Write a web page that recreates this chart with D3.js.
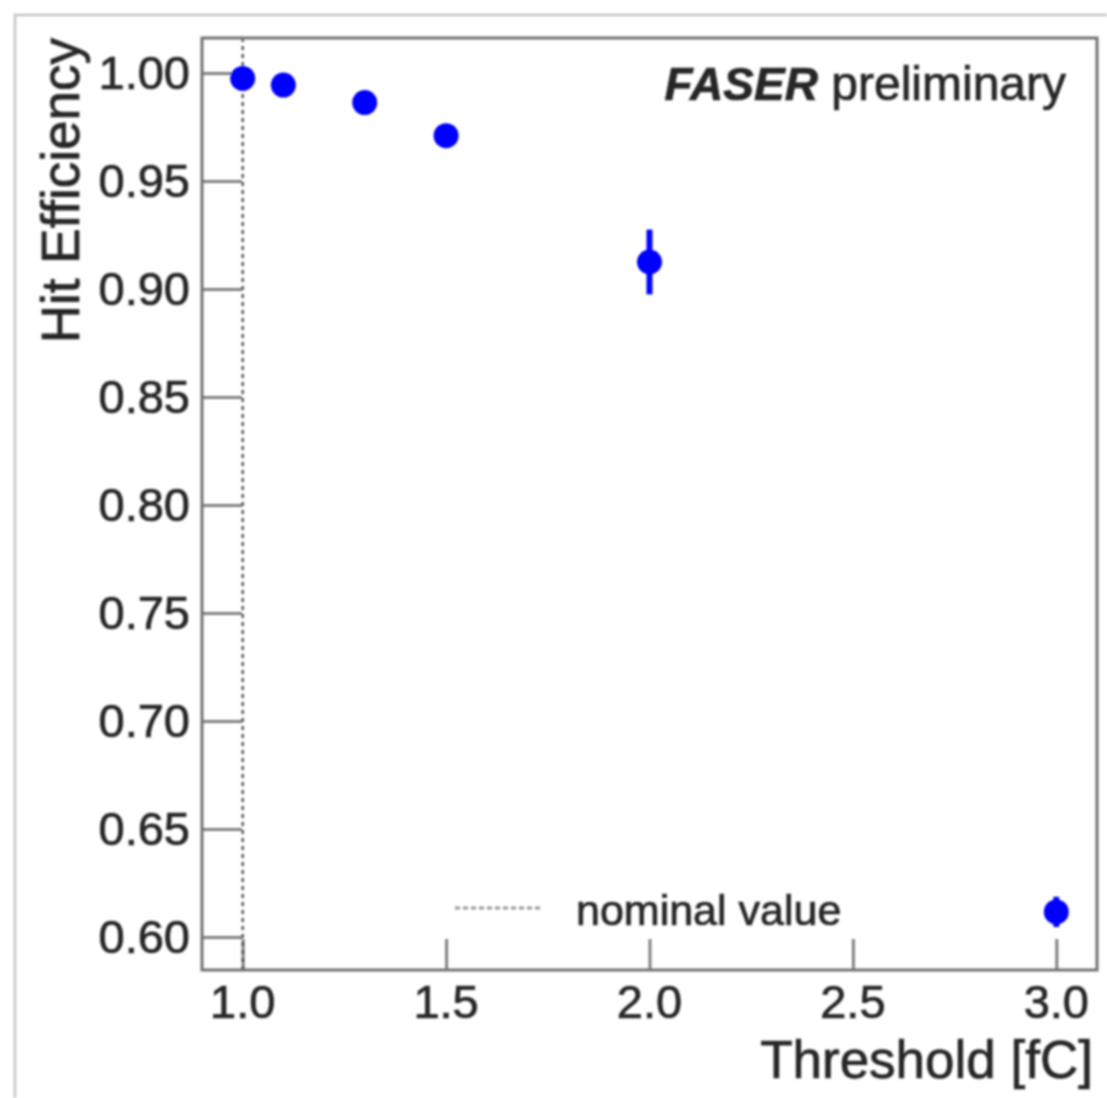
<!DOCTYPE html>
<html>
<head>
<meta charset="utf-8">
<script src="https://cdn.jsdelivr.net/npm/d3@7"></script>
<style>
  html, body { margin: 0; padding: 0; background: #fff; }
  svg { display: block; }
  text { font-family: "Liberation Sans", Arial, Helvetica, sans-serif; fill: #262626; stroke: #262626; stroke-width: 0.7px; }
</style>
</head>
<body>
<svg id="chart" width="1107" height="1098"></svg>
<script>
// Hit efficiency of the tracker vs. discriminator threshold
const thresholds = [1.0, 1.1, 1.3, 1.5, 2.0, 3.0];
const efficiency = [0.9975, 0.9944, 0.9863, 0.9710, 0.9125, 0.6116];
const effError   = [0.0010, 0.0012, 0.0015, 0.0025, 0.0150, 0.0070];

const xTicks = [1.0, 1.5, 2.0, 2.5, 3.0];
const yTicks = [0.60, 0.65, 0.70, 0.75, 0.80, 0.85, 0.90, 0.95, 1.00];
const nominalThreshold = 1.0;

const xTitle = "Threshold [fC]";
const yTitle = "Hit Efficiency";
const legendLabel = "nominal value";

const frame = { left: 202, right: 1097, top: 38, bottom: 970 };

const svg = d3.select("#chart");

const defs = svg.append("defs");
defs.append("filter").attr("id", "soft")
  .attr("x", "-5%").attr("y", "-5%").attr("width", "110%").attr("height", "110%")
  .append("feGaussianBlur").attr("stdDeviation", 1.2);

const g = svg.append("g").attr("filter", "url(#soft)");

// canvas border
g.append("path")
  .attr("d", "M15,1098 L15,15 L1107,15")
  .attr("fill", "none").attr("stroke", "#c4c4c4").attr("stroke-width", 2.5);

const x = d3.scaleLinear().domain([0.9, 3.1]).range([frame.left, frame.right]);
const y = d3.scaleLinear().domain([0.5847, 1.0162]).range([frame.bottom, frame.top]);

// y axis: long inward ticks
const yAxis = d3.axisRight(y).tickValues(yTicks).tickSize(40).tickFormat("");
const yAx = g.append("g").attr("transform", `translate(${frame.left},0)`).call(yAxis);
yAx.select(".domain").remove();
yAx.selectAll(".tick line").attr("stroke", "#808080").attr("stroke-width", 3);

g.append("g").selectAll("text").data(yTicks).join("text")
  .attr("x", frame.left - 12).attr("y", d => y(d))
  .attr("text-anchor", "end").attr("dominant-baseline", "central")
  .attr("font-size", 47).text(d => d.toFixed(2));

// x axis: inward ticks
const xAxis = d3.axisTop(x).tickValues(xTicks).tickSize(31).tickFormat("");
const xAx = g.append("g").attr("transform", `translate(0,${frame.bottom})`).call(xAxis);
xAx.select(".domain").remove();
xAx.selectAll(".tick line").attr("stroke", "#808080").attr("stroke-width", 3);

g.append("g").selectAll("text").data(xTicks).join("text")
  .attr("x", d => x(d)).attr("y", 1018)
  .attr("text-anchor", "middle")
  .attr("font-size", 47).text(d => d.toFixed(1));

// nominal threshold marker
g.append("line")
  .attr("x1", x(nominalThreshold)).attr("x2", x(nominalThreshold))
  .attr("y1", frame.top).attr("y2", frame.bottom)
  .attr("stroke", "#333").attr("stroke-width", 2).attr("stroke-dasharray", "4,4");

// frame
g.append("rect")
  .attr("x", frame.left).attr("y", frame.top)
  .attr("width", frame.right - frame.left).attr("height", frame.bottom - frame.top)
  .attr("fill", "none").attr("stroke", "#707070").attr("stroke-width", 3);

// axis titles
g.append("text")
  .attr("x", 1093).attr("y", 1078)
  .attr("text-anchor", "end").attr("font-size", 53).text(xTitle);

g.append("text")
  .attr("transform", "translate(79,38) rotate(-90)")
  .attr("text-anchor", "end").attr("font-size", 53).text(yTitle);

// label
const lab = g.append("text")
  .attr("x", 1066).attr("y", 100)
  .attr("text-anchor", "end").attr("font-size", 48);
lab.append("tspan").attr("font-style", "italic").attr("font-weight", "bold").attr("font-size", 46).text("FASER");
lab.append("tspan").text(" preliminary");

// legend
g.append("line")
  .attr("x1", 455).attr("x2", 540).attr("y1", 908).attr("y2", 908)
  .attr("stroke", "#999").attr("stroke-width", 3).attr("stroke-dasharray", "5,3");
g.append("text")
  .attr("x", 576).attr("y", 910).attr("dominant-baseline", "central")
  .attr("font-size", 43).text(legendLabel);

// data points with error bars
const pts = thresholds.map((t, i) => ({ t, e: efficiency[i], err: effError[i] }));

g.append("g").selectAll("line").data(pts).join("line")
  .attr("x1", d => x(d.t)).attr("x2", d => x(d.t))
  .attr("y1", d => y(d.e - d.err)).attr("y2", d => y(d.e + d.err))
  .attr("stroke", "#0000ff").attr("stroke-width", 6);

g.append("g").selectAll("circle").data(pts).join("circle")
  .attr("cx", d => x(d.t)).attr("cy", d => y(d.e))
  .attr("r", 12.5).attr("fill", "#0000ff");
</script>
</body>
</html>
